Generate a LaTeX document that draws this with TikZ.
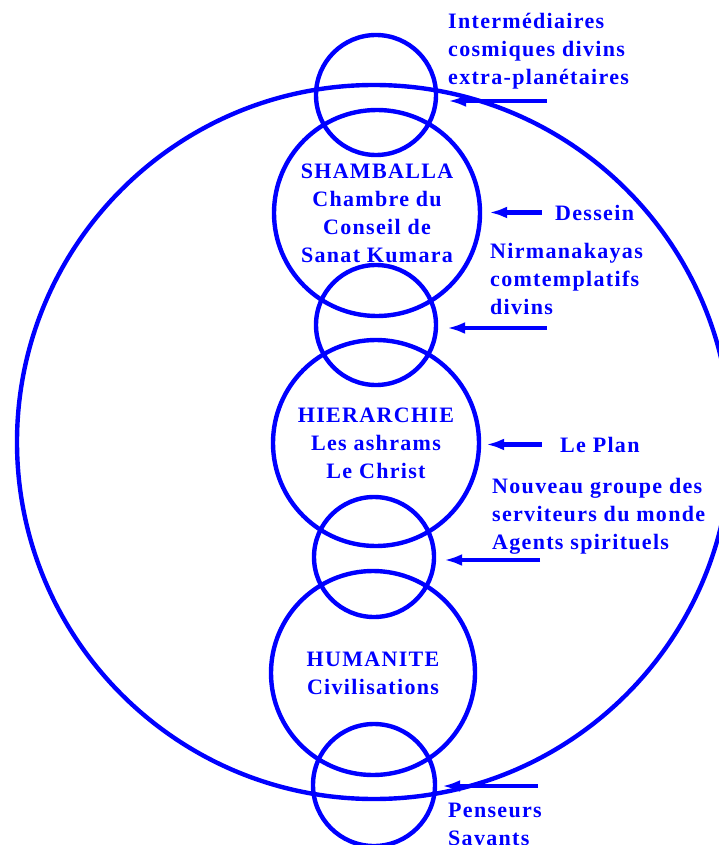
\documentclass[tikz,border=0pt]{standalone}
\usepackage{fontspec}
\setmainfont{Liberation Serif}[LetterSpace=6]
\usepackage{xcolor}
\usetikzlibrary{arrows.meta}
\definecolor{plan-blue}{RGB}{0,0,255}
\tikzset{
    plan-text/.style = {text=plan-blue, font=\bfseries\fontsize{22}{28}\selectfont},
    plan-circle/.style = {plan-text, draw=plan-blue, circle, line width=4.4pt, inner sep=0pt, align=center},
    side-label/.style = {plan-text, inner sep=0pt, align=left, anchor=base west},
    side-arrow/.style = {draw=plan-blue, line width=4.4pt, -{Latex[length=18pt,width=12pt]}},
}

\begin{document}
\begin{tikzpicture}[x=1pt, y=-1pt]
\useasboundingbox (0,0) rectangle (719,845);
\clip (0,0) rectangle (719,845);

% the planet and its three centres
\node[plan-circle, minimum size=714pt] (planet) at (374,442) {};
\node[plan-circle, minimum size=206pt] (shamballa) at (377,213) {SHAMBALLA\\Chambre du\\Conseil de\\Sanat Kumara};
\node[plan-circle, minimum size=206pt] (hierarchie) at (376,443) {HIERARCHIE\\Les ashrams\\Le Christ};
\node[plan-circle, minimum size=204pt] (humanite) at (373,673) {HUMANITE\\Civilisations};

% the links between them
\node[plan-circle, minimum size=120pt] (top-link) at (376,95) {};
\node[plan-circle, minimum size=120pt] (upper-link) at (376,325) {};
\node[plan-circle, minimum size=120pt] (lower-link) at (374,557) {};
\node[plan-circle, minimum size=122pt] (bottom-link) at (374,785) {};

% labels on the right (base is the last line)
\node[side-label] (cosmic) at (448,85) {Intermédiaires\\cosmiques divins\\extra-planétaires};
\node[side-label] (dessein) at (555,220) {Dessein};
\node[side-label] (nirmana) at (490,314) {Nirmanakayas\\comtemplatifs\\divins};
\node[side-label] (plan) at (560,452) {Le Plan};
\node[side-label] (servers) at (492,549) {Nouveau groupe des\\serviteurs du monde\\Agents spirituels};
\node[side-label] (thinkers) at (448,845) {Penseurs\\Savants};

\coordinate (cosmic-tail) at (547,101);
\coordinate (nirmana-tail) at (547,328);
\coordinate (servers-tail) at (540,560);
\coordinate (thinkers-tail) at (538,786);

\draw[side-arrow, shorten >=10pt] (cosmic-tail) -- (cosmic-tail -| top-link.east);
\draw[side-arrow, shorten <=13pt, shorten >=7pt] (dessein.west) -- (dessein.west -| shamballa.east);
\draw[side-arrow, shorten >=9pt] (nirmana-tail) -- (nirmana-tail -| upper-link.east);
\draw[side-arrow, shorten <=18pt, shorten >=5pt] (plan.west) -- (plan.west -| hierarchie.east);
\draw[side-arrow, shorten >=8pt] (servers-tail) -- (servers-tail -| lower-link.east);
\draw[side-arrow, shorten >=5pt] (thinkers-tail) -- (thinkers-tail -| bottom-link.east);
\end{tikzpicture}
\end{document}
